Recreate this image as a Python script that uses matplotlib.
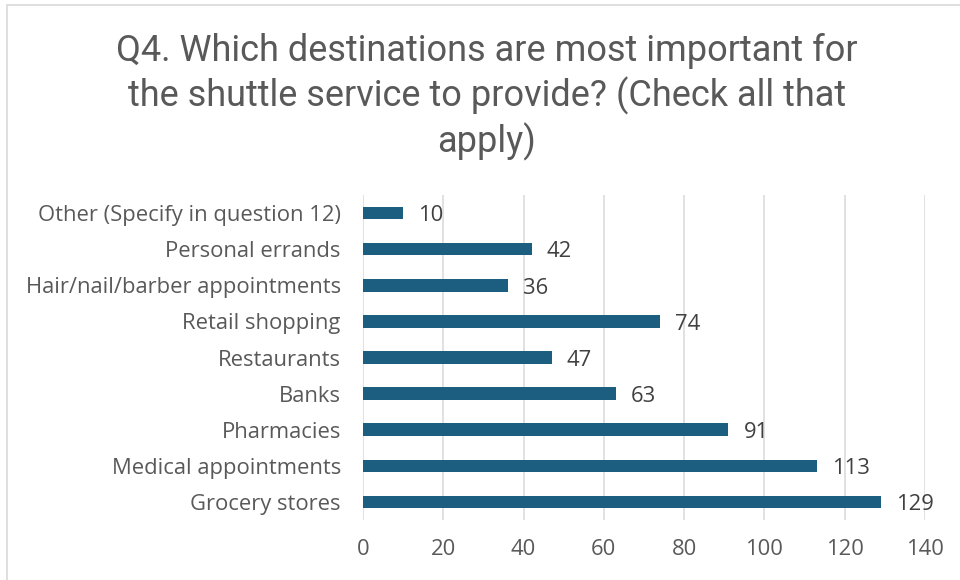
import matplotlib
matplotlib.use("Agg")
import matplotlib.pyplot as plt
from matplotlib.patches import Rectangle

categories = [
    "Grocery stores",
    "Medical appointments",
    "Pharmacies",
    "Banks",
    "Restaurants",
    "Retail shopping",
    "Hair/nail/barber appointments",
    "Personal errands",
    "Other (Specify in question 12)",
]
counts = [129, 113, 91, 63, 47, 74, 36, 42, 10]
x_ticks = [0, 20, 40, 60, 80, 100, 120, 140]
title = ("Q4. Which destinations are most important for\n"
         "the shuttle service to provide? (Check all that\n"
         "apply)")

BAR = "#1B5E80"
GRID = "#D9D9D9"
TEXT = "#595959"
LABEL = "#404040"
FONT = ["Open Sans", "DejaVu Sans"]
TITLE_FONT = ["Roboto", "DejaVu Sans"]
SIZE = 15.8

fig = plt.figure(figsize=(9.6, 5.8), dpi=100)
fig.patches.append(Rectangle((7 / 960, -0.1), 1.2, (575 + 58) / 580,
                             transform=fig.transFigure, fill=False,
                             edgecolor="#D9D9D9", linewidth=1.2))

ax = fig.add_axes([363 / 960, 1 - 520 / 580, (925 - 363) / 960, (520 - 195) / 580])
y = list(range(len(categories)))
bars = ax.barh(y, counts, height=0.35, color=BAR, zorder=3)

ax.set_xlim(0, 140)
ax.set_ylim(-0.5, len(categories) - 0.5)
ax.set_xticks(x_ticks)
ax.set_xticklabels([str(t) for t in x_ticks], fontsize=SIZE, color=TEXT, family=FONT)
ax.set_yticks(y)
ax.set_yticklabels(categories, fontsize=SIZE, color=TEXT, family=FONT)
ax.tick_params(axis="x", length=0, pad=14)
ax.tick_params(axis="y", length=0, pad=16)
ax.grid(axis="x", color=GRID, linewidth=1.1, zorder=0)
for s in ax.spines.values():
    s.set_visible(False)

for b, v in zip(bars, counts):
    ax.annotate(str(v), (v, b.get_y() + b.get_height() / 2),
                xytext=(11, -2), textcoords="offset points",
                ha="left", va="center", fontsize=SIZE, color=LABEL, family=FONT)

fig.text(487 / 960, 1 - 97 / 580, title, ha="center", va="center",
         fontsize=26, color=TEXT, family=TITLE_FONT, linespacing=1.25)

fig.savefig("out.png", dpi=100, facecolor="white")
